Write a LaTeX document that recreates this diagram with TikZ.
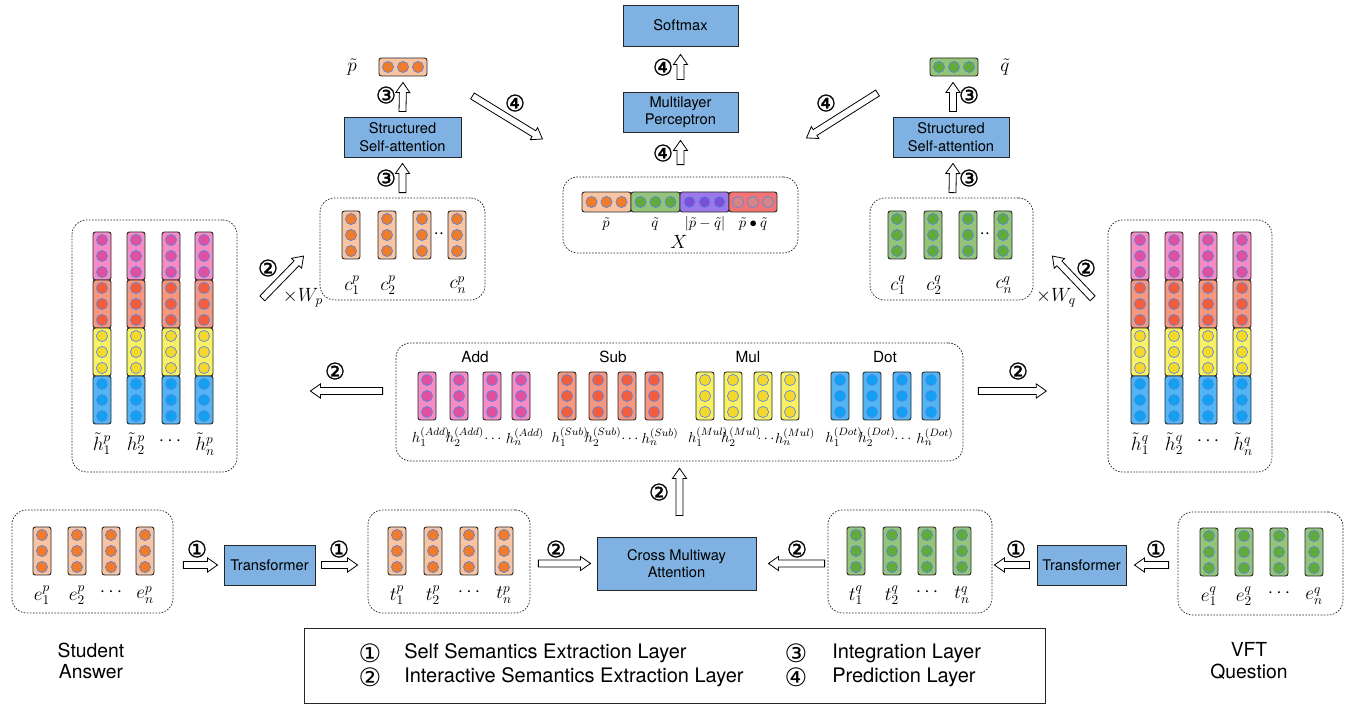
\documentclass[tikz,border=0pt]{standalone}
\usepackage[no-math]{fontspec}
\setmainfont{TeX Gyre Heros}
\newfontfamily\circf{DejaVu Sans}
\newfontfamily\circbf[FakeBold=1.2]{DejaVu Sans}
\usetikzlibrary{shapes.arrows,calc,fit}
\definecolor{orR}{HTML}{F8C4A2}\definecolor{orC}{HTML}{EF7B2B}
\definecolor{grR}{HTML}{94C47A}\definecolor{grC}{HTML}{62AA3A}
\definecolor{pkR}{HTML}{F68CC6}\definecolor{pkC}{HTML}{E0509E}
\definecolor{saR}{HTML}{F6977F}\definecolor{saC}{HTML}{F45D3C}
\definecolor{yeR}{HTML}{F9F165}\definecolor{yeC}{HTML}{F4D82E}
\definecolor{blR}{HTML}{52B5F3}\definecolor{blC}{HTML}{12A0F2}
\definecolor{puR}{HTML}{9C78EA}\definecolor{puC}{HTML}{7C4FDB}
\definecolor{rdR}{HTML}{F27474}\definecolor{rdC}{HTML}{D68585}
\definecolor{boxblue}{HTML}{7FB2E2}
\definecolor{circblue}{HTML}{5A87E0}
\tikzset{
  box/.style={draw=black!85, fill=boxblue, line width=0.7pt, inner sep=0pt, align=center, font=\fontsize{11}{13}\selectfont},
  dbox/.style={draw=black!85, dash pattern=on 1.2pt off 1.1pt, rounded corners=11pt, line width=0.55pt, inner sep=0pt},
  vrect/.style={draw=black!85, line width=0.7pt, rounded corners=1.8pt},
  vcirc/.style={draw=circblue, line width=0.5pt},
  harrow/.style={single arrow, draw=black, fill=white, line width=0.6pt, inner xsep=0pt, inner ysep=2.3pt, single arrow head extend=2.7pt, single arrow tip angle=70, outer sep=0pt},
  num/.style={font=\circbf\fontsize{17}{17}\selectfont, inner sep=0pt},
  mlab/.style={font=\fontsize{14.5}{16}\selectfont, inner sep=0pt},
  hlab/.style={font=\fontsize{11}{13}\selectfont, inner sep=0pt},
  xlab/.style={font=\fontsize{10.5}{12}\selectfont, inner sep=0pt},
  ttl/.style={font=\fontsize{11.5}{13}\selectfont, inner sep=0pt},
  side/.style={font=\fontsize{14.5}{16}\selectfont, align=center, inner sep=0pt},
  leg/.style={font=\fontsize{15}{17}\selectfont, anchor=west, inner sep=0pt},
  legn/.style={font=\circf\fontsize{19}{19}\selectfont, inner sep=0pt}
}
\newcommand\vvec[4]{%
  \draw[vrect, fill=#3] ({#1-9},#2) rectangle ({#1+9},{#2+48});
  \foreach \k in {8,24,40} \draw[vcirc, fill=#4] (#1,{#2+\k}) circle[radius=4.2pt];}
\newcommand\hcircs[4]{%
  \foreach \k in {-15,0,15} \draw[vcirc, fill=#4] ({(#1+#2)/2+\k},#3) circle[radius=4.2pt];}
\newcommand\hseg[5]{%
  \draw[vrect, fill=#4] (#1,{#3-10}) rectangle (#2,{#3+10});
  \hcircs{#1}{#2}{#3}{#5}}
\newcommand\harr[3]{%
  \path let \p1=#2, \p2=#3, \n1={atan2(\y2-\y1,\x2-\x1)}, \n2={veclen(\x2-\x1,\y2-\y1)} in
    node[harrow, minimum height=\n2, rotate=\n1, anchor=tail] (#1) at (\p1) {};}
\begin{document}
\begin{tikzpicture}[x=0.75pt,y=-0.75pt]
\useasboundingbox (0,0) rectangle (1361,705);
% ---------- solid boxes
\node[box, minimum width=86.25pt, minimum height=30.75pt] (softmax) at (680.5,25.5) {Softmax};
\node[box, minimum width=86.25pt, minimum height=30pt] (mlp) at (680.5,112) {Multilayer\\Perceptron};
\node[box, minimum width=87.75pt, minimum height=30pt] (structp) at (402.5,137) {Structured\\Self-attention};
\node[box, minimum width=87pt, minimum height=30pt] (structq) at (951,137) {Structured\\Self-attention};
\node[box, minimum width=68.25pt, minimum height=30pt] (transp) at (269.5,565) {Transformer};
\node[box, minimum width=66.75pt, minimum height=30pt] (transq) at (1081.5,565) {Transformer};
\node[box, minimum width=119.25pt, minimum height=39.75pt] (cma) at (676.5,563.5) {Cross Multiway\\Attention};
% ---------- dashed containers
\node[dbox, fit={(563,177) (798,253)}] (X) {};
\node[dbox, fit={(320,198) (485,300)}] (cp) {};
\node[dbox, fit={(870,198) (1033,300)}] (cq) {};
\node[dbox, fit={(72,220) (237,472)}] (bigp) {};
\node[dbox, fit={(1108,220) (1272,472)}] (bigq) {};
\node[dbox, fit={(396,343) (963,461)}] (mid) {};
\node[dbox, fit={(12,510) (173,613)}] (ep) {};
\node[dbox, fit={(368,510) (530,613)}] (tp) {};
\node[dbox, fit={(828,510) (992,613)}] (tq) {};
\node[dbox, fit={(1178,512) (1343,615)}] (eq) {};
% ---------- p~ and q~
\node[vrect, fill=orR, fit={(379,58) (427,76)}, inner sep=0pt] (ptv) {};
\hcircs{379}{427}{67}{orC}
\node[vrect, fill=grR, fit={(930,58) (978,76)}, inner sep=0pt] (qtv) {};
\hcircs{930}{978}{67}{grC}
\node[mlab] (ptl) at (352,67) {$\tilde{p}$};
\node[mlab] (qtl) at (1005,67) {$\tilde{q}$};
% ---------- X
\hseg{582}{631}{202}{orR}{orC}
\hseg{631}{680}{202}{grR}{grC}
\hseg{680}{729}{202}{puR}{puC}
\hseg{729}{777}{202}{rdR}{rdC}
\node[xlab] (x1) at (606,224) {$\tilde{p}$};
\node[xlab] (x2) at (655,224) {$\tilde{q}$};
\node[xlab] (x3) at (705,224) {$|\tilde{p}-\tilde{q}|$};
\node[xlab] (x4) at (753,224) {$\tilde{p}\bullet\tilde{q}$};
\node[mlab] (xl) at (679,242) {$X$};
% ---------- c vectors
\foreach \cx in {351,387,422,457} {\vvec{\cx}{211}{orR}{orC}}
\foreach \cx in {897,933,968,1003} {\vvec{\cx}{211}{grR}{grC}}
\node[mlab] (cd1) at (439,234) {$\cdot\cdot$};
\node[mlab] (cd2) at (985,234) {$\cdot\cdot$};
\node[mlab] (cp1) at (352,285) {$c^p_1$};
\node[mlab] (cp2) at (388,285) {$c^p_2$};
\node[mlab] (cpn) at (458,285) {$c^p_n$};
\node[mlab] (cq1) at (898,285) {$c^q_1$};
\node[mlab] (cq2) at (934,285) {$c^q_2$};
\node[mlab] (cqn) at (1004,285) {$c^q_n$};
% ---------- big stacks
\foreach \cx in {102,136,171,204,1140,1174,1208,1242} {
  \foreach \ty/\rc/\cc in {232/pkR/pkC,280/saR/saC,328/yeR/yeC,376/blR/blC} {
    \vvec{\cx}{\ty}{\rc}{\cc}
  }
}
\node[mlab] (hp1) at (102,444) {$\tilde{h}^p_1$};
\node[mlab] (hp2) at (136,444) {$\tilde{h}^p_2$};
\node[mlab] (hpd) at (170,441) {$\cdots$};
\node[mlab] (hpn) at (205,444) {$\tilde{h}^p_n$};
\node[mlab] (hq1) at (1140,444) {$\tilde{h}^q_1$};
\node[mlab] (hq2) at (1174,444) {$\tilde{h}^q_2$};
\node[mlab] (hqd) at (1208,441) {$\cdots$};
\node[mlab] (hqn) at (1243,444) {$\tilde{h}^q_n$};
% ---------- middle
\node[ttl] (tadd) at (475,357) {Add};
\node[ttl] (tsub) at (613,357) {Sub};
\node[ttl] (tmul) at (748,357) {Mul};
\node[ttl] (tdot) at (885,357) {Dot};
\foreach \cx in {427,459,492,521} {\vvec{\cx}{372}{pkR}{pkC}}
\foreach \cx in {567,598,627,654} {\vvec{\cx}{372}{saR}{saC}}
\foreach \cx in {705,733,763,790} {\vvec{\cx}{372}{yeR}{yeC}}
\foreach \cx in {840,872,902,931} {\vvec{\cx}{372}{blR}{blC}}
\node[hlab] (ha1) at (431,437) {$h^{(Add)}_1$};
\node[hlab] (ha2) at (465,437) {$h^{(Add)}_2$};
\node[hlab] (had) at (493,439) {$\cdots$};
\node[hlab] (han) at (525,437) {$h^{(Add)}_n$};
\node[hlab] (hs1) at (570,437) {$h^{(Sub)}_1$};
\node[hlab] (hs2) at (603,437) {$h^{(Sub)}_2$};
\node[hlab] (hsd) at (630,439) {$\cdots$};
\node[hlab] (hsn) at (660,437) {$h^{(Sub)}_n$};
\node[hlab] (hm1) at (708,437) {$h^{(Mul)}_1$};
\node[hlab] (hm2) at (741,437) {$h^{(Mul)}_2$};
\node[hlab] (hmd) at (766,439) {$\cdots$};
\node[hlab] (hmn) at (795,437) {$h^{(Mul)}_n$};
\node[hlab] (hd1) at (844,437) {$h^{(Dot)}_1$};
\node[hlab] (hd2) at (877,437) {$h^{(Dot)}_2$};
\node[hlab] (hdd) at (903,439) {$\cdots$};
\node[hlab] (hdn) at (935,437) {$h^{(Dot)}_n$};
% ---------- bottom vectors
\foreach \cx in {42,77,111,145} {\vvec{\cx}{527}{orR}{orC}}
\foreach \cx in {397,433,469,504} {\vvec{\cx}{527}{orR}{orC}}
\foreach \cx in {856,892,927,962} {\vvec{\cx}{527}{grR}{grC}}
\foreach \cx in {1209,1244,1279,1314} {\vvec{\cx}{528}{grR}{grC}}
\node[mlab] (e1) at (42,595) {$e^p_1$};
\node[mlab] (e2) at (77,595) {$e^p_2$};
\node[mlab] (ed) at (111,592) {$\cdots$};
\node[mlab] (en) at (145,595) {$e^p_n$};
\node[mlab] (t1) at (397,595) {$t^p_1$};
\node[mlab] (t2) at (433,595) {$t^p_2$};
\node[mlab] (td) at (469,592) {$\cdots$};
\node[mlab] (tn) at (504,595) {$t^p_n$};
\node[mlab] (u1) at (856,595) {$t^q_1$};
\node[mlab] (u2) at (892,595) {$t^q_2$};
\node[mlab] (ud) at (927,592) {$\cdots$};
\node[mlab] (un) at (962,595) {$t^q_n$};
\node[mlab] (f1) at (1209,596) {$e^q_1$};
\node[mlab] (f2) at (1244,596) {$e^q_2$};
\node[mlab] (fd) at (1279,593) {$\cdots$};
\node[mlab] (fn) at (1314,596) {$e^q_n$};
\node[side] (stud) at (91,661) {Student\\Answer};
\node[side] (vft) at (1249,661) {VFT\\Question};
% ---------- hollow arrows
\harr{a1}{($(ep.east |- transp.west)+(10,0)$)}{($(transp.west)+(-6,0)$)}
\harr{a2}{($(transp.east)+(6,0)$)}{($(tp.west |- transp.east)+(-10,0)$)}
\harr{a3}{($(tp.east |- cma.west)+(8,0)$)}{($(cma.west)+(-6,0)$)}
\harr{a4}{($(tq.west |- cma.east)+(-3,0)$)}{($(cma.east)+(12,0)$)}
\harr{a5}{($(transq.west)+(-7,0)$)}{($(tq.east |- transq.west)+(2,0)$)}
\harr{a6}{($(eq.west |- transq.east)+(-9,0)$)}{($(transq.east)+(8,0)$)}
\harr{a7}{($(cma.north -| mid.south)+(0,-21)$)}{($(mid.south)+(0,7)$)}
\harr{a8}{($(mid.west)+(-13,-11)$)}{($(bigp.east |- mid.west)+(73,-11)$)}
\harr{a9}{($(mid.east)+(15,-11)$)}{($(mid.east)+(83,-11)$)}
\harr{a10}{($(bigp.east |- cp.south)+(25,-2)$)}{($(cp.west)+(-16,7)$)}
\harr{a11}{($(bigq.west |- cq.south)+(-15,-2)$)}{($(cq.east)+(19,7)$)}
\harr{a12}{($(structp.north)+(0,-5)$)}{($(ptv.south)+(0,6)$)}
\harr{a13}{($(cp.north)+(0,-5)$)}{($(structp.south)+(0,6)$)}
\harr{a14}{($(structq.north)+(2,-5)$)}{($(qtv.south)+(-1,6)$)}
\harr{a15}{($(cq.north)+(1,-5)$)}{($(structq.south)+(2,6)$)}
\harr{a16}{($(ptv.east)+(45,29)$)}{($(mlp.west)+(-80,27)$)}
\harr{a17}{($(qtv.west)+(-52,26)$)}{($(mlp.east)+(68,26)$)}
\harr{a18}{($(X.north)+(0,-12)$)}{($(mlp.south)+(0,8)$)}
\harr{a19}{($(mlp.north)+(0,-12)$)}{($(softmax.south)+(0,8)$)}
% ---------- arrow labels
\node[num] (n1) at (197,549) {①};
\node[num] (n2) at (339,549) {①};
\node[num] (n3) at (556,549) {②};
\node[num] (n4) at (797,549) {②};
\node[num] (n5) at (1016,549) {①};
\node[num] (n6) at (1156,549) {①};
\node[num] (n7) at (659,492) {②};
\node[num] (n8) at (335,371) {②};
\node[num] (n9) at (1018,371) {②};
\node[num] (n10) at (268,268) {②};
\node[num] (n11) at (1086,268) {②};
\node[num] (n12) at (386,95) {③};
\node[num] (n13) at (386,178) {③};
\node[num] (n14) at (969,95) {③};
\node[num] (n15) at (969,178) {③};
\node[num] (n16) at (515,103) {④};
\node[num] (n17) at (826,103) {④};
\node[num] (n18) at (663,153) {④};
\node[num] (n19) at (663,67) {④};
\node[mlab] (wp) at (303,298) {$\times W_p$};
\node[mlab] (wq) at (1056,298) {$\times W_q$};
% ---------- legend
\node[draw=black!85, line width=0.7pt, fit={(304,628) (1045,703)}, inner sep=0pt] (legend) {};
\node[legn] (l1) at (370,653) {①};
\node[leg] (l1t) at (404,653) {Self Semantics Extraction Layer};
\node[legn] (l2) at (370,677) {②};
\node[leg] (l2t) at (404,677) {Interactive Semantics Extraction Layer};
\node[legn] (l3) at (796,653) {③};
\node[leg] (l3t) at (832,653) {Integration Layer};
\node[legn] (l4) at (796,677) {④};
\node[leg] (l4t) at (832,677) {Prediction Layer};
\end{tikzpicture}
\end{document}
